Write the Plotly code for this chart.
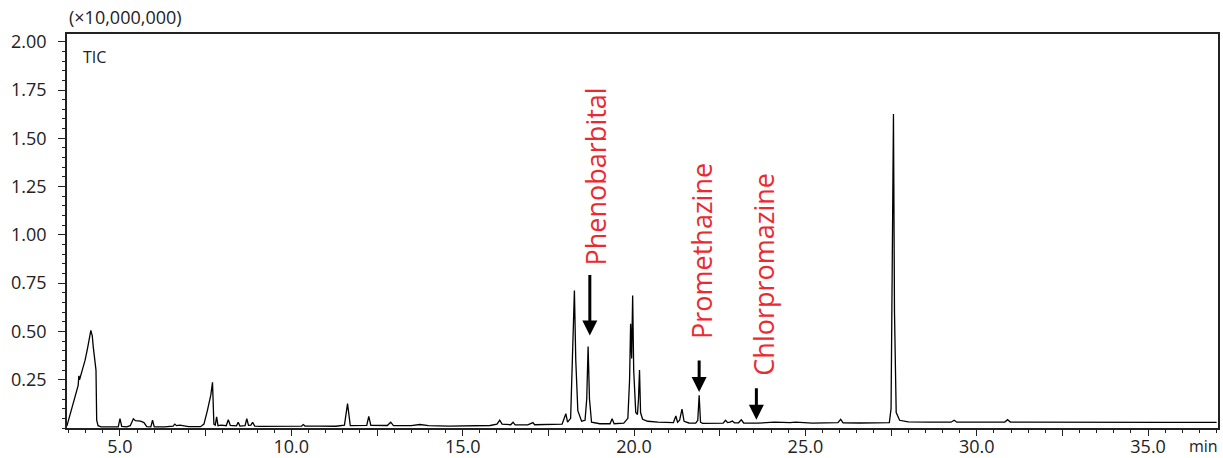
import plotly.graph_objects as go

# Retention time (min) and TIC intensity (x10,000,000)
time_min = [
    3.45, 3.55, 3.65, 3.75, 3.78, 3.80, 3.82, 3.90, 3.98, 4.05, 4.12, 4.15, 4.17, 4.19, 4.22, 4.25,
    4.29, 4.30, 4.32, 4.36, 4.45, 4.6, 4.8, 4.95, 5.0, 5.05, 5.2, 5.3, 5.39, 5.45, 5.6, 5.7, 5.78,
    5.9, 5.95, 6.0, 6.3, 6.55, 6.6, 6.65, 6.75, 7.0, 7.35, 7.45, 7.55, 7.65, 7.70, 7.74, 7.78, 7.82,
    7.86, 7.95, 8.1, 8.16, 8.22, 8.4, 8.45, 8.5, 8.65, 8.70, 8.75, 8.82, 8.87, 8.93, 9.1, 9.5, 9.9,
    10.3, 10.35, 10.4, 10.8, 11.3, 11.55, 11.64, 11.72, 12.0, 12.2, 12.26, 12.32, 12.8, 12.9, 12.98,
    13.5, 13.75, 14.0, 14.6, 15.2, 15.8, 16.0, 16.08, 16.15, 16.4, 16.47, 16.53, 16.9, 17.05, 17.1,
    17.5, 17.9, 18.01, 18.06, 18.15, 18.22, 18.26, 18.30, 18.36, 18.47, 18.57, 18.62, 18.66, 18.70,
    18.76, 19.0, 19.3, 19.36, 19.42, 19.7, 19.82, 19.87, 19.90, 19.93, 19.96, 19.99, 20.05, 20.10,
    20.13, 20.16, 20.19, 20.25, 20.4, 20.7, 21.0, 21.15, 21.22, 21.27, 21.33, 21.40, 21.46, 21.6,
    21.8, 21.86, 21.90, 21.94, 22.0, 22.3, 22.6, 22.67, 22.73, 22.8, 22.87, 22.93, 23.05, 23.13,
    23.2, 23.6, 24.1, 24.55, 24.72, 25.2, 25.7, 25.95, 26.03, 26.1, 26.6, 27.2, 27.45, 27.50, 27.55,
    27.57, 27.60, 27.65, 27.75, 28.0, 28.6, 29.25, 29.34, 29.42, 30.0, 30.5, 30.82, 30.9, 30.98,
    31.5, 32.5, 33.5, 34.5, 35.5, 36.5, 37.0,
]
tic_intensity = [
    0.010, 0.07, 0.13, 0.19, 0.22, 0.27, 0.25, 0.30, 0.35, 0.41, 0.47, 0.505, 0.49, 0.48, 0.42, 0.37,
    0.32, 0.30, 0.04, 0.012, 0.006, 0.005, 0.005, 0.006, 0.048, 0.008, 0.006, 0.012, 0.048, 0.038,
    0.036, 0.028, 0.007, 0.006, 0.04, 0.006, 0.006, 0.01, 0.02, 0.012, 0.015, 0.007, 0.007, 0.02,
    0.09, 0.17, 0.237, 0.02, 0.015, 0.058, 0.012, 0.015, 0.012, 0.043, 0.013, 0.011, 0.03, 0.01,
    0.012, 0.048, 0.014, 0.015, 0.03, 0.01, 0.008, 0.009, 0.007, 0.01, 0.018, 0.01, 0.01, 0.009,
    0.015, 0.126, 0.012, 0.012, 0.014, 0.06, 0.014, 0.013, 0.03, 0.012, 0.012, 0.018, 0.012, 0.01,
    0.012, 0.013, 0.02, 0.04, 0.02, 0.017, 0.03, 0.016, 0.016, 0.028, 0.017, 0.017, 0.02, 0.074,
    0.03, 0.05, 0.45, 0.712, 0.35, 0.09, 0.035, 0.04, 0.15, 0.422, 0.15, 0.03, 0.022, 0.022, 0.048,
    0.022, 0.025, 0.05, 0.25, 0.54, 0.36, 0.686, 0.3, 0.08, 0.07, 0.15, 0.30, 0.08, 0.045, 0.035,
    0.03, 0.027, 0.028, 0.062, 0.03, 0.04, 0.098, 0.035, 0.026, 0.025, 0.04, 0.169, 0.03, 0.024,
    0.024, 0.025, 0.04, 0.028, 0.03, 0.036, 0.027, 0.027, 0.043, 0.026, 0.025, 0.03, 0.028, 0.03,
    0.025, 0.026, 0.028, 0.045, 0.027, 0.026, 0.026, 0.028, 0.1, 1.2, 1.626, 0.6, 0.08, 0.04, 0.032,
    0.03, 0.03, 0.04, 0.03, 0.03, 0.03, 0.031, 0.043, 0.031, 0.03, 0.029, 0.029, 0.029, 0.029,
    0.029, 0.029,
]

x_tick_vals = [5.0, 7.5, 10.0, 12.5, 15.0, 17.5, 20.0, 22.5, 25.0, 27.5, 30.0, 32.5, 35.0]
x_tick_text = ["5.0", "", "10.0", "", "15.0", "", "20.0", "", "25.0", "", "30.0", "", "35.0"]
y_tick_vals = [0.25, 0.50, 0.75, 1.00, 1.25, 1.50, 1.75, 2.00]
y_tick_text = ["0.25", "0.50", "0.75", "1.00", "1.25", "1.50", "1.75", "2.00"]

compounds = ["Phenobarbital", "Promethazine", "Chlorpromazine"]

FONT = "Open Sans"
AX = "#222222"
RED = "#ea2a2f"

fig = go.Figure()
fig.add_trace(go.Scatter(x=time_min, y=tic_intensity, mode="lines",
                         line=dict(color="#000000", width=1.3), hoverinfo="skip",
                         showlegend=False))

fig.update_layout(
    width=1223, height=458,
    margin=dict(l=67, r=5, t=34, b=30, autoexpand=False),
    paper_bgcolor="white", plot_bgcolor="white",
    font=dict(family=FONT, color=AX, size=18),
    xaxis=dict(range=[3.454, 37.04], showgrid=False, zeroline=False, automargin=False,
               showline=True, linecolor=AX, linewidth=1.5, mirror=True,
               ticks="outside", ticklen=6, tickwidth=1.2, tickcolor=AX,
               tickvals=x_tick_vals, ticktext=x_tick_text, ticklabelstandoff=-4,
               tickfont=dict(size=18, family=FONT, color=AX),
               minor=dict(ticks="outside", ticklen=3, tickwidth=1, tickcolor=AX,
                          tick0=0, dtick=0.5)),
    yaxis=dict(range=[0, 2.04], showgrid=False, zeroline=False, automargin=False,
               showline=True, linecolor=AX, linewidth=1.5, mirror=True,
               ticks="outside", ticklen=7, tickwidth=1.2, tickcolor=AX,
               tickvals=y_tick_vals, ticktext=y_tick_text, ticklabelstandoff=8,
               tickfont=dict(size=18, family=FONT, color=AX),
               minor=dict(ticks="outside", ticklen=3.5, tickwidth=1, tickcolor=AX,
                          tick0=0, dtick=0.05)),
)

annotations = [
    dict(text="(×10,000,000)", xref="paper", yref="paper", x=0, y=1, xanchor="left",
         yanchor="bottom", yshift=3, showarrow=False,
         font=dict(size=18, family=FONT, color=AX)),
    dict(text="TIC", xref="paper", yref="paper", x=0.012, y=0.9416, xanchor="left",
         yanchor="middle", showarrow=False, font=dict(size=16, family=FONT, color=AX)),
    dict(text="min", xref="paper", yref="paper", x=0.987, y=-0.0457, xanchor="center",
         yanchor="middle", showarrow=False, font=dict(size=16, family=FONT, color=AX)),
]
label_pos = [(18.87, 1.304), (21.95, 0.916), (23.77, 0.795)]
arrow_tip = [(18.71, 0.479, -62), (21.90, 0.186, -33), (23.57, 0.043, -33)]
for name, (lx, ly), (axp, ayp, alen) in zip(compounds, label_pos, arrow_tip):
    annotations.append(dict(text=name, x=lx, y=ly, xref="x", yref="y", textangle=-90,
                            xanchor="center", yanchor="middle", showarrow=False,
                            font=dict(size=27, family=FONT, color=RED)))
    annotations.append(dict(text="", x=axp, y=ayp, xref="x", yref="y", showarrow=True,
                            ax=0, ay=alen, arrowhead=2, arrowsize=1, arrowwidth=3,
                            arrowcolor="#000000", standoff=0))
fig.update_layout(annotations=annotations)

fig.write_html("out.html",
               config={"displayModeBar": False},
               post_script="document.body.style.margin='0px';"
                           "document.body.style.overflow='hidden';")
